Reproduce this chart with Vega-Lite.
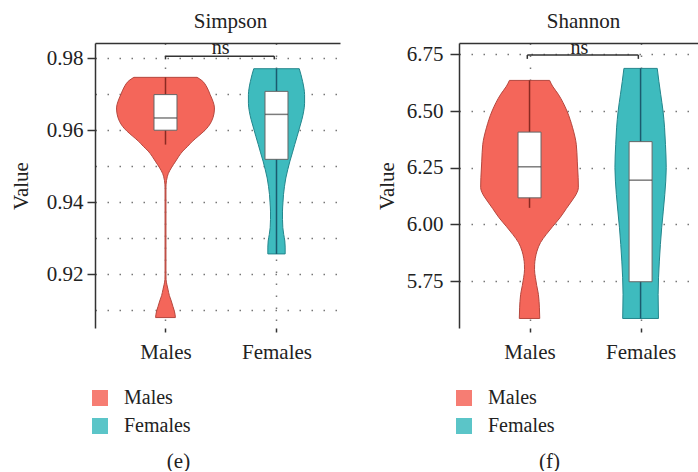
{
  "$schema": "https://vega.github.io/schema/vega-lite/v6.json",
  "padding": {"left": 10, "top": 10, "right": 0, "bottom": 0},
  "config": {
    "view": {"stroke": null},
    "font": "Liberation Serif",
    "axis": {"labelFont": "Liberation Serif", "titleFont": "Liberation Serif", "labelFontSize": 21, "titleFontSize": 21, "labelColor": "#222", "titleColor": "#222", "titleFontWeight": "normal", "domainColor": "#333", "tickColor": "#333", "gridColor": "#777", "gridDash": [1.5, 10.5], "gridWidth": 1.5},
    "title": {"font": "Liberation Serif", "fontSize": 21, "fontWeight": "normal", "color": "#222"}
  },
  "datasets": {
    "simpson_violin": [
      {"group": "Males", "value": 0.9747, "lo": 0.715, "hi": 1.285},
      {"group": "Males", "value": 0.9738, "lo": 0.672, "hi": 1.328},
      {"group": "Males", "value": 0.9720, "lo": 0.628, "hi": 1.372},
      {"group": "Males", "value": 0.9699, "lo": 0.598, "hi": 1.402},
      {"group": "Males", "value": 0.9680, "lo": 0.572, "hi": 1.428},
      {"group": "Males", "value": 0.9662, "lo": 0.559, "hi": 1.441},
      {"group": "Males", "value": 0.9645, "lo": 0.564, "hi": 1.436},
      {"group": "Males", "value": 0.9625, "lo": 0.585, "hi": 1.415},
      {"group": "Males", "value": 0.9610, "lo": 0.615, "hi": 1.385},
      {"group": "Males", "value": 0.9597, "lo": 0.654, "hi": 1.346},
      {"group": "Males", "value": 0.9583, "lo": 0.706, "hi": 1.294},
      {"group": "Males", "value": 0.9569, "lo": 0.758, "hi": 1.242},
      {"group": "Males", "value": 0.9555, "lo": 0.801, "hi": 1.199},
      {"group": "Males", "value": 0.9542, "lo": 0.844, "hi": 1.156},
      {"group": "Males", "value": 0.9528, "lo": 0.879, "hi": 1.121},
      {"group": "Males", "value": 0.9514, "lo": 0.908, "hi": 1.092},
      {"group": "Males", "value": 0.9495, "lo": 0.948, "hi": 1.052},
      {"group": "Males", "value": 0.9480, "lo": 0.974, "hi": 1.026},
      {"group": "Males", "value": 0.9472, "lo": 0.983, "hi": 1.017},
      {"group": "Males", "value": 0.9460, "lo": 0.991, "hi": 1.009},
      {"group": "Males", "value": 0.9440, "lo": 0.996, "hi": 1.004},
      {"group": "Males", "value": 0.9200, "lo": 0.996, "hi": 1.004},
      {"group": "Males", "value": 0.9185, "lo": 0.995, "hi": 1.005},
      {"group": "Males", "value": 0.9170, "lo": 0.987, "hi": 1.013},
      {"group": "Males", "value": 0.9158, "lo": 0.978, "hi": 1.022},
      {"group": "Males", "value": 0.9140, "lo": 0.965, "hi": 1.035},
      {"group": "Males", "value": 0.9125, "lo": 0.948, "hi": 1.052},
      {"group": "Males", "value": 0.9110, "lo": 0.933, "hi": 1.067},
      {"group": "Males", "value": 0.9097, "lo": 0.920, "hi": 1.080},
      {"group": "Males", "value": 0.9088, "lo": 0.914, "hi": 1.086},
      {"group": "Males", "value": 0.9079, "lo": 0.911, "hi": 1.089},
      {"group": "Females", "value": 0.9771, "lo": 1.795, "hi": 2.205},
      {"group": "Females", "value": 0.9755, "lo": 1.780, "hi": 2.220},
      {"group": "Females", "value": 0.9736, "lo": 1.765, "hi": 2.235},
      {"group": "Females", "value": 0.9715, "lo": 1.752, "hi": 2.248},
      {"group": "Females", "value": 0.9699, "lo": 1.747, "hi": 2.253},
      {"group": "Females", "value": 0.9675, "lo": 1.747, "hi": 2.253},
      {"group": "Females", "value": 0.9653, "lo": 1.755, "hi": 2.245},
      {"group": "Females", "value": 0.9630, "lo": 1.771, "hi": 2.229},
      {"group": "Females", "value": 0.9606, "lo": 1.793, "hi": 2.207},
      {"group": "Females", "value": 0.9583, "lo": 1.814, "hi": 2.186},
      {"group": "Females", "value": 0.9560, "lo": 1.836, "hi": 2.164},
      {"group": "Females", "value": 0.9537, "lo": 1.857, "hi": 2.143},
      {"group": "Females", "value": 0.9514, "lo": 1.879, "hi": 2.121},
      {"group": "Females", "value": 0.9490, "lo": 1.899, "hi": 2.101},
      {"group": "Females", "value": 0.9467, "lo": 1.916, "hi": 2.084},
      {"group": "Females", "value": 0.9444, "lo": 1.928, "hi": 2.072},
      {"group": "Females", "value": 0.9421, "lo": 1.937, "hi": 2.063},
      {"group": "Females", "value": 0.9398, "lo": 1.942, "hi": 2.058},
      {"group": "Females", "value": 0.9375, "lo": 1.946, "hi": 2.054},
      {"group": "Females", "value": 0.9352, "lo": 1.946, "hi": 2.054},
      {"group": "Females", "value": 0.9329, "lo": 1.943, "hi": 2.057},
      {"group": "Females", "value": 0.9310, "lo": 1.935, "hi": 2.065},
      {"group": "Females", "value": 0.9292, "lo": 1.925, "hi": 2.075},
      {"group": "Females", "value": 0.9275, "lo": 1.922, "hi": 2.078},
      {"group": "Females", "value": 0.9256, "lo": 1.922, "hi": 2.078}
    ],
    "simpson_box": [
      {"group": "Males", "pos": 1, "q1": 0.9600, "med": 0.9634, "q3": 0.9699, "wlo": 0.9560, "whi": 0.9747},
      {"group": "Females", "pos": 2, "q1": 0.9519, "med": 0.9644, "q3": 0.9708, "wlo": 0.9256, "whi": 0.9771}
    ],
    "simpson_sig": [
      {"x": 1, "x2": 1.98, "y": 0.9806, "y2": 0.9806},
      {"x": 1, "x2": 1, "y": 0.9806, "y2": 0.9797},
      {"x": 1.98, "x2": 1.98, "y": 0.9806, "y2": 0.9797}
    ],
    "simpson_label": [{"x": 1.497, "y": 0.9811, "label": "ns"}],
    "shannon_violin": [
      {"group": "Males", "value": 6.635, "lo": 0.819, "hi": 1.181},
      {"group": "Males", "value": 6.610, "lo": 0.793, "hi": 1.207},
      {"group": "Males", "value": 6.574, "lo": 0.741, "hi": 1.259},
      {"group": "Males", "value": 6.500, "lo": 0.663, "hi": 1.337},
      {"group": "Males", "value": 6.426, "lo": 0.612, "hi": 1.388},
      {"group": "Males", "value": 6.353, "lo": 0.579, "hi": 1.421},
      {"group": "Males", "value": 6.279, "lo": 0.570, "hi": 1.430},
      {"group": "Males", "value": 6.206, "lo": 0.562, "hi": 1.438},
      {"group": "Males", "value": 6.162, "lo": 0.560, "hi": 1.440},
      {"group": "Males", "value": 6.140, "lo": 0.573, "hi": 1.427},
      {"group": "Males", "value": 6.103, "lo": 0.620, "hi": 1.380},
      {"group": "Males", "value": 6.070, "lo": 0.668, "hi": 1.332},
      {"group": "Males", "value": 6.029, "lo": 0.726, "hi": 1.274},
      {"group": "Males", "value": 5.990, "lo": 0.793, "hi": 1.207},
      {"group": "Males", "value": 5.956, "lo": 0.849, "hi": 1.151},
      {"group": "Males", "value": 5.920, "lo": 0.901, "hi": 1.099},
      {"group": "Males", "value": 5.882, "lo": 0.933, "hi": 1.067},
      {"group": "Males", "value": 5.850, "lo": 0.948, "hi": 1.052},
      {"group": "Males", "value": 5.824, "lo": 0.954, "hi": 1.046},
      {"group": "Males", "value": 5.800, "lo": 0.955, "hi": 1.045},
      {"group": "Males", "value": 5.765, "lo": 0.947, "hi": 1.053},
      {"group": "Males", "value": 5.730, "lo": 0.935, "hi": 1.065},
      {"group": "Males", "value": 5.691, "lo": 0.920, "hi": 1.080},
      {"group": "Males", "value": 5.660, "lo": 0.914, "hi": 1.086},
      {"group": "Males", "value": 5.632, "lo": 0.911, "hi": 1.089},
      {"group": "Males", "value": 5.585, "lo": 0.908, "hi": 1.092},
      {"group": "Females", "value": 6.688, "lo": 1.850, "hi": 2.150},
      {"group": "Females", "value": 6.630, "lo": 1.835, "hi": 2.165},
      {"group": "Females", "value": 6.574, "lo": 1.819, "hi": 2.181},
      {"group": "Females", "value": 6.500, "lo": 1.798, "hi": 2.202},
      {"group": "Females", "value": 6.426, "lo": 1.784, "hi": 2.216},
      {"group": "Females", "value": 6.353, "lo": 1.776, "hi": 2.224},
      {"group": "Females", "value": 6.250, "lo": 1.769, "hi": 2.231},
      {"group": "Females", "value": 6.132, "lo": 1.782, "hi": 2.218},
      {"group": "Females", "value": 5.985, "lo": 1.810, "hi": 2.190},
      {"group": "Females", "value": 5.838, "lo": 1.831, "hi": 2.169},
      {"group": "Females", "value": 5.691, "lo": 1.842, "hi": 2.158},
      {"group": "Females", "value": 5.585, "lo": 1.839, "hi": 2.161}
    ],
    "shannon_box": [
      {"group": "Males", "pos": 1, "q1": 6.117, "med": 6.254, "q3": 6.407, "wlo": 6.073, "whi": 6.635},
      {"group": "Females", "pos": 2, "q1": 5.747, "med": 6.195, "q3": 6.365, "wlo": 5.585, "whi": 6.688}
    ],
    "shannon_sig": [
      {"x": 0.98, "x2": 1.98, "y": 6.747, "y2": 6.747},
      {"x": 0.98, "x2": 0.98, "y": 6.747, "y2": 6.73},
      {"x": 1.98, "x2": 1.98, "y": 6.747, "y2": 6.73}
    ],
    "shannon_label": [{"x": 1.45, "y": 6.7526, "label": "ns"}]
  },
  "hconcat": [
    {
      "width": 245,
      "height": 285,
      "title": {"text": "Simpson", "dx": 13, "offset": 6},
      "layer": [
        {
          "data": {"name": "simpson_violin"},
          "mark": {"type": "area", "orient": "horizontal", "interpolate": "monotone", "strokeWidth": 1, "opacity": 1},
          "encoding": {
            "y": {"field": "value", "type": "quantitative", "scale": {"domain": [0.905, 0.98425], "nice": false, "zero": false},
              "axis": {"title": "Value", "values": [0.91, 0.92, 0.93, 0.94, 0.95, 0.96, 0.97, 0.98], "format": ".2f",
                "labelExpr": "round(datum.value*100) % 2 == 0 ? datum.label : ''",
                "tickOpacity": {"condition": {"test": "round(datum.value*100) % 2 == 0", "value": 1}, "value": 0},
                "tickSize": 8, "tickWidth": 1.5, "labelPadding": 4, "titlePadding": 15, "domainWidth": 1.5, "grid": true}},
            "x": {"field": "lo", "type": "quantitative", "scale": {"domain": [0.41, 2.527], "nice": false, "zero": false},
              "axis": {"title": "(e)", "values": [1, 2], "labelExpr": "datum.value == 1 ? 'Males' : 'Females'", "domain": false,
                "tickSize": 4, "tickWidth": 1.5, "labelPadding": 9, "grid": true,
                "titleX": 83, "titleY": 133, "titleAlign": "center", "titleBaseline": "middle"}},
            "x2": {"field": "hi"},
            "color": {"field": "group", "type": "nominal", "scale": {"domain": ["Males", "Females"], "range": ["#F4665A", "#3EBBBE"]},
              "legend": {"orient": "none", "direction": "vertical", "legendX": -5, "legendY": 345, "title": null, "symbolType": "square", "symbolSize": 256,
                "symbolStrokeWidth": 0, "symbolOpacity": 0.85, "labelFontSize": 20, "labelFont": "Liberation Serif", "labelColor": "#222",
                "rowPadding": 8, "labelOffset": 14, "padding": 0}},
            "stroke": {"condition": {"test": "datum.group === 'Males'", "value": "#b5473e"}, "value": "#23868c"}
          }
        },
        {
          "data": {"name": "simpson_box"},
          "mark": {"type": "rule", "strokeWidth": 1.5},
          "encoding": {
            "x": {"field": "pos", "type": "quantitative", "axis": null},
            "y": {"field": "wlo", "type": "quantitative", "axis": null},
            "y2": {"field": "whi"},
            "stroke": {"condition": {"test": "datum.group === 'Males'", "value": "#8a2a22"}, "value": "#1b5a6e"}
          }
        },
        {
          "data": {"name": "simpson_box"},
          "mark": {"type": "bar", "size": 23, "fill": "white", "stroke": "#666", "strokeWidth": 1},
          "encoding": {
            "x": {"field": "pos", "type": "quantitative", "axis": null},
            "y": {"field": "q1", "type": "quantitative", "axis": null},
            "y2": {"field": "q3"}
          }
        },
        {
          "data": {"name": "simpson_box"},
          "mark": {"type": "tick", "orient": "horizontal", "size": 23, "thickness": 1.5, "color": "#444"},
          "encoding": {
            "x": {"field": "pos", "type": "quantitative", "axis": null},
            "y": {"field": "med", "type": "quantitative", "axis": null}
          }
        },
        {
          "data": {"name": "simpson_sig"},
          "mark": {"type": "rule", "strokeWidth": 1.5, "color": "#333"},
          "encoding": {
            "x": {"field": "x", "type": "quantitative",
              "axis": {"orient": "top", "title": null, "labels": false, "ticks": false, "grid": false, "domain": true, "domainWidth": 1.5, "domainColor": "#333"}},
            "x2": {"field": "x2"},
            "y": {"field": "y", "type": "quantitative", "axis": null},
            "y2": {"field": "y2"}
          }
        },
        {
          "data": {"name": "simpson_label"},
          "mark": {"type": "text", "fontSize": 20, "font": "Liberation Serif", "baseline": "alphabetic", "color": "#222"},
          "encoding": {
            "x": {"field": "x", "type": "quantitative", "axis": null},
            "y": {"field": "y", "type": "quantitative", "axis": null},
            "text": {"field": "label"}
          }
        }
      ],
      "resolve": {"axis": {"x": "independent", "y": "independent"}}
    },
    {
      "width": 241,
      "height": 285,
      "title": {"text": "Shannon", "dx": 4, "offset": 6},
      "layer": [
        {
          "data": {"name": "shannon_violin"},
          "mark": {"type": "area", "orient": "horizontal", "interpolate": "monotone", "strokeWidth": 1, "opacity": 1},
          "encoding": {
            "y": {"field": "value", "type": "quantitative", "scale": {"domain": [5.543, 6.8], "nice": false, "zero": false},
              "axis": {"title": "Value", "values": [5.75, 6.0, 6.25, 6.5, 6.75], "format": ".2f",
                "tickSize": 9, "tickWidth": 1.5, "labelPadding": 7, "titlePadding": 9, "domainWidth": 1.5, "grid": true}},
            "x": {"field": "lo", "type": "quantitative", "scale": {"domain": [0.41, 2.49], "nice": false, "zero": false},
              "axis": {"title": "(f)", "values": [1, 2], "labelExpr": "datum.value == 1 ? 'Males' : 'Females'", "domain": false,
                "tickSize": 4, "tickWidth": 1.5, "labelPadding": 9, "grid": true,
                "titleX": 90, "titleY": 133, "titleAlign": "center", "titleBaseline": "middle"}},
            "x2": {"field": "hi"},
            "color": {"field": "group", "type": "nominal", "scale": {"domain": ["Males", "Females"], "range": ["#F4665A", "#3EBBBE"]},
              "legend": {"orient": "none", "direction": "vertical", "legendX": -5, "legendY": 345, "title": null, "symbolType": "square", "symbolSize": 256,
                "symbolStrokeWidth": 0, "symbolOpacity": 0.85, "labelFontSize": 20, "labelFont": "Liberation Serif", "labelColor": "#222",
                "rowPadding": 8, "labelOffset": 14, "padding": 0}},
            "stroke": {"condition": {"test": "datum.group === 'Males'", "value": "#b5473e"}, "value": "#23868c"}
          }
        },
        {
          "data": {"name": "shannon_box"},
          "mark": {"type": "rule", "strokeWidth": 1.5},
          "encoding": {
            "x": {"field": "pos", "type": "quantitative", "axis": null},
            "y": {"field": "wlo", "type": "quantitative", "axis": null},
            "y2": {"field": "whi"},
            "stroke": {"condition": {"test": "datum.group === 'Males'", "value": "#8a2a22"}, "value": "#1b5a6e"}
          }
        },
        {
          "data": {"name": "shannon_box"},
          "mark": {"type": "bar", "size": 23, "fill": "white", "stroke": "#666", "strokeWidth": 1},
          "encoding": {
            "x": {"field": "pos", "type": "quantitative", "axis": null},
            "y": {"field": "q1", "type": "quantitative", "axis": null},
            "y2": {"field": "q3"}
          }
        },
        {
          "data": {"name": "shannon_box"},
          "mark": {"type": "tick", "orient": "horizontal", "size": 23, "thickness": 1.5, "color": "#444"},
          "encoding": {
            "x": {"field": "pos", "type": "quantitative", "axis": null},
            "y": {"field": "med", "type": "quantitative", "axis": null}
          }
        },
        {
          "data": {"name": "shannon_sig"},
          "mark": {"type": "rule", "strokeWidth": 1.5, "color": "#333"},
          "encoding": {
            "x": {"field": "x", "type": "quantitative",
              "axis": {"orient": "top", "title": null, "labels": false, "ticks": false, "grid": false, "domain": true, "domainWidth": 1.5, "domainColor": "#333"}},
            "x2": {"field": "x2"},
            "y": {"field": "y", "type": "quantitative", "axis": null},
            "y2": {"field": "y2"}
          }
        },
        {
          "data": {"name": "shannon_label"},
          "mark": {"type": "text", "fontSize": 20, "font": "Liberation Serif", "baseline": "alphabetic", "color": "#222"},
          "encoding": {
            "x": {"field": "x", "type": "quantitative", "axis": null},
            "y": {"field": "y", "type": "quantitative", "axis": null},
            "text": {"field": "label"}
          }
        }
      ],
      "resolve": {"axis": {"x": "independent", "y": "independent"}}
    }
  ],
  "spacing": 36,
  "resolve": {"scale": {"x": "independent", "y": "independent", "color": "independent"}, "legend": {"color": "independent"}}
}
